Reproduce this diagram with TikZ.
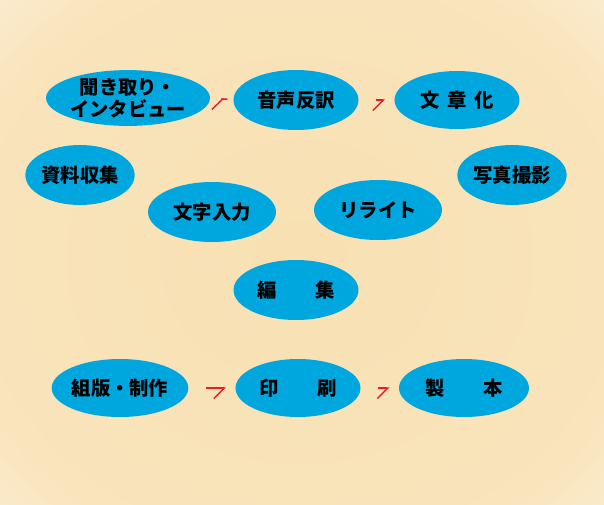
\documentclass[tikz,border=0pt]{standalone}
\usepackage{fontspec}
\newfontfamily\cjk{Noto Sans CJK JP}
\usetikzlibrary{arrows.meta,positioning,shapes.geometric}
\definecolor{stepblue}{RGB}{0,166,222}
\definecolor{glow}{RGB}{248,224,178}
\definecolor{flowred}{RGB}{230,30,40}
\pgfdeclareradialshading{glowshade}{\pgfpoint{0bp}{0bp}}{%
  color(0bp)=(glow); color(14bp)=(glow!88!white); color(25bp)=(white); color(50bp)=(white)}
\begin{document}
\begin{tikzpicture}[x=0.02cm,y=-0.02cm,
    task/.style={ellipse, fill=stepblue, inner sep=0pt, font=\cjk\bfseries\fontsize{11}{12.5}\selectfont, align=center},
    flow/.style={-{Straight Barb[right,length=6pt,width=12pt]}, flowred, thick, shorten <=0.34cm, shorten >=0.18cm}
]
    % background glow
    \useasboundingbox (0,0) rectangle (604,504);
    \fill[white] (0,0) rectangle (604,504);
    \begin{scope}
      \clip (0,0) rectangle (604,504);
      \shade[shading=glowshade] (300,260) ellipse [x radius=620, y radius=540];
    \end{scope}
    % top row
    \node[task, minimum width=2.4cm, minimum height=1.1cm] (listen) at (128,98) {聞き取り・\\インタビュー};
    \node[task, minimum width=2.5cm, minimum height=1.2cm] (transcribe) at (296,100) {音声反訳};
    \node[task, minimum width=2.5cm, minimum height=1.16cm] (write) at (457,100) {文\hspace{0.4em}章\hspace{0.4em}化};
    % middle
    \node[task, minimum width=1.84cm, minimum height=1.2cm] (collect) at (80,175) {資料収集};
    \node[task, minimum width=1.76cm, minimum height=1.2cm] (photo) at (512,175) {写真撮影};
    \node[task, minimum width=2.56cm, minimum height=1.2cm] (input) at (212,212) {文字入力};
    \node[task, minimum width=2.56cm, minimum height=1.2cm] (rewrite) at (378,210) {リライト};
    \node[task, minimum width=2.5cm, minimum height=1.2cm] (edit) at (296,290) {編\hspace{2em}集};
    % bottom row
    \node[task, minimum width=2.1cm, minimum height=1.16cm] (layout) at (120,388) {組版・制作};
    \node[task, minimum width=2.5cm, minimum height=1.16cm] (print) at (298,388) {印\hspace{2em}刷};
    \node[task, minimum width=2.6cm, minimum height=1.16cm] (bind) at (464,388) {製\hspace{2em}本};
    % arrows
    \draw[flow] (listen) -- (transcribe);
    \draw[flow] (transcribe) -- (write);
    \draw[flow] (layout) -- (print);
    \draw[flow] (print) -- (bind);
\end{tikzpicture}
\end{document}
